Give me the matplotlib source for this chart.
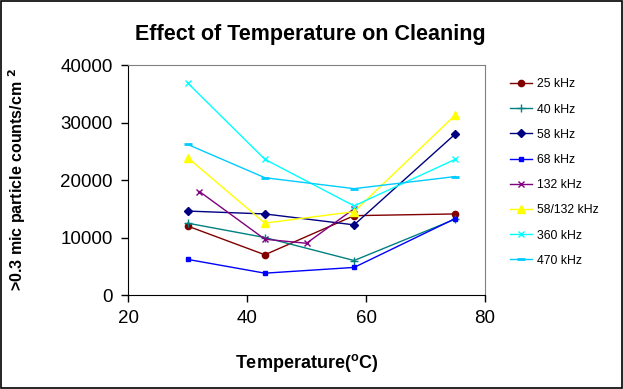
import matplotlib
matplotlib.use("Agg")
import matplotlib.pyplot as plt
from matplotlib.patches import Rectangle

plt.rcParams["font.family"] = ["Liberation Sans", "DejaVu Sans"]

TEMPS = [30, 43, 58, 75]
TEMPS_132 = [32, 43, 50, 58]

SERIES = [
    ("25 kHz", TEMPS, [12000, 7000, 13800, 14100]),
    ("40 kHz", TEMPS, [12500, 10000, 6000, 13200]),
    ("58 kHz", TEMPS, [14600, 14100, 12200, 28000]),
    ("68 kHz", TEMPS, [6200, 3800, 4800, 13300]),
    ("132 kHz", TEMPS_132, [18000, 9700, 9000, 15000]),
    ("58/132 kHz", TEMPS, [23900, 12500, 14500, 31300]),
    ("360 kHz", TEMPS, [36900, 23600, 15500, 23600]),
    ("470 kHz", TEMPS, [26200, 20400, 18500, 20600]),
]

STYLES = {
    "25 kHz": dict(color="#800000", marker="o", ms=4.5),
    "40 kHz": dict(color="#008080", marker="+", ms=5.5),
    "58 kHz": dict(color="#000080", marker="D", ms=4),
    "68 kHz": dict(color="#0000FF", marker="s", ms=2.5),
    "132 kHz": dict(color="#800080", marker="x", ms=4),
    "58/132 kHz": dict(color="#FFFF00", marker="^", ms=5.5),
    "360 kHz": dict(color="#00FFFF", marker="x", ms=4.5),
    "470 kHz": dict(color="#00CCFF", marker="_", ms=6, mew=2),
}

fig = plt.figure(figsize=(6.23, 3.89), dpi=100)
fig.patches.append(Rectangle((0.002, 0.003), 0.996, 0.994, transform=fig.transFigure,
                             fill=False, edgecolor="black", lw=1.2))

ax = fig.add_axes([0.2055, 0.2416, 0.573, 0.5913])
for name, xs, ys in SERIES:
    st = dict(STYLES[name])
    ax.plot(xs, ys, lw=1.0, label=name, **st)

ax.set_xlim(20, 80)
ax.set_ylim(0, 40000)
ax.set_xticks([20, 40, 60, 80])
ax.set_yticks([0, 10000, 20000, 30000, 40000])
ax.tick_params(labelsize=13.5, direction="out", length=5, width=1, pad=6)
ax.spines["top"].set_color("#808080")
ax.spines["right"].set_color("#808080")

ax.set_xlabel(r"Temperature($\mathregular{^o}$C)", fontsize=13, fontweight="bold", labelpad=18)
ax.set_ylabel(r">0.3 mic particle counts/cm $\mathbf{^2}$", fontsize=11.5, fontweight="bold",
              labelpad=23)
fig.text(0.498, 0.912, "Effect of Temperature on Cleaning", ha="center", va="center",
         fontsize=15.5, fontweight="bold")

ax.legend(loc="upper left", bbox_to_anchor=(1.04, 0.99), frameon=False, fontsize=8.8,
          handlelength=1.8, labelspacing=1.08, handletextpad=0.35)

fig.savefig("out.png", dpi=100)
